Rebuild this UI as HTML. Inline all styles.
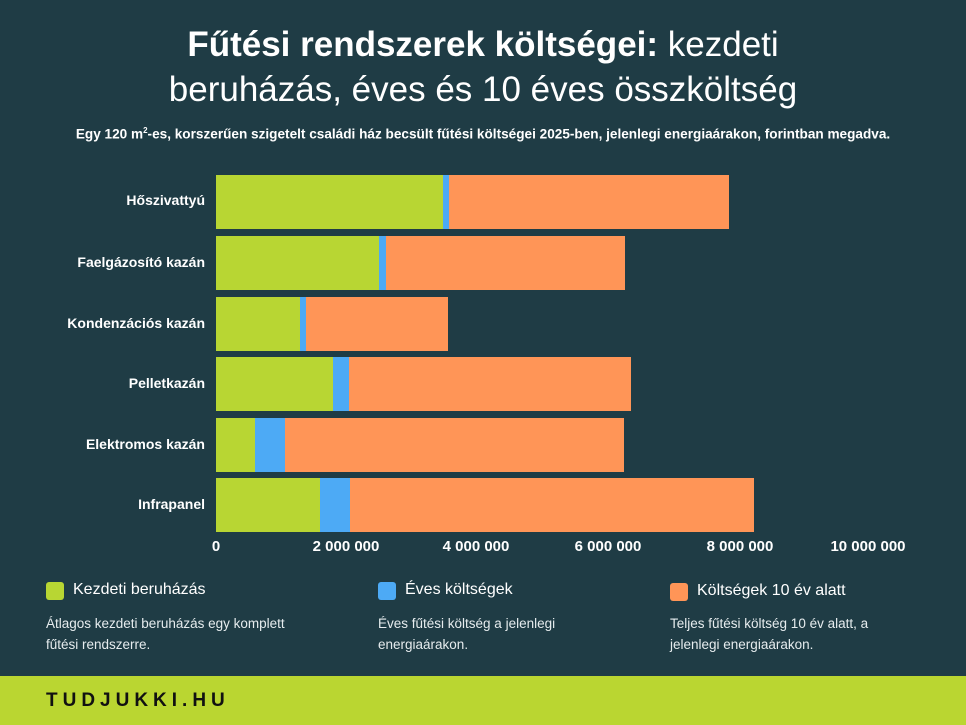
<!DOCTYPE html>
<html><head><meta charset="utf-8"><style>
body{margin:0;width:966px;height:725px;background:#1f3c45;font-family:"Liberation Sans",sans-serif;color:#fff;position:relative;overflow:hidden}
.abs{position:absolute}
.t{left:0;width:966px;text-align:center;font-size:35px;line-height:40px}
.lbl{right:761px;font-weight:bold;font-size:14px;text-align:right;white-space:nowrap}
.bar{position:absolute;height:54px}
.g{background:#b8d633}.b{background:#4daaf5}.o{background:#ff9557}
.tick{font-weight:bold;font-size:15px;width:120px;text-align:center;top:538px}
.sw{width:18px;height:18px;border-radius:3px}
.lt{font-size:16px}
.ld{font-size:13.5px;line-height:21px;color:#e6ecee}
</style></head><body>
<div class="abs t" style="top:25px"><b>Fűtési rendszerek költségei:</b> kezdeti</div>
<div class="abs t" style="top:70px">beruházás, éves és 10 éves összköltség</div>
<div class="abs" style="left:0;width:966px;text-align:center;top:126px;font-size:13.6px;font-weight:bold;white-space:nowrap">Egy 120 m<sup style="font-size:8px">2</sup>-es, korszerűen szigetelt családi ház becsült fűtési költségei 2025-ben, jelenlegi energiaárakon, forintban megadva.</div>

<div class="abs lbl" style="top:192px">Hőszivattyú</div>
<div class="bar g" style="left:216px;width:227px;top:175px"></div><div class="bar b" style="left:443px;width:6px;top:175px"></div><div class="bar o" style="left:449px;width:280px;top:175px"></div>

<div class="abs lbl" style="top:254px">Faelgázosító kazán</div>
<div class="bar g" style="left:216px;width:163px;top:236px"></div><div class="bar b" style="left:379px;width:7px;top:236px"></div><div class="bar o" style="left:386px;width:239px;top:236px"></div>

<div class="abs lbl" style="top:315px">Kondenzációs kazán</div>
<div class="bar g" style="left:216px;width:84px;top:297px"></div><div class="bar b" style="left:300px;width:6px;top:297px"></div><div class="bar o" style="left:306px;width:142px;top:297px"></div>

<div class="abs lbl" style="top:375px">Pelletkazán</div>
<div class="bar g" style="left:216px;width:117px;top:357px"></div><div class="bar b" style="left:333px;width:16px;top:357px"></div><div class="bar o" style="left:349px;width:282px;top:357px"></div>

<div class="abs lbl" style="top:436px">Elektromos kazán</div>
<div class="bar g" style="left:216px;width:39px;top:418px"></div><div class="bar b" style="left:255px;width:30px;top:418px"></div><div class="bar o" style="left:285px;width:339px;top:418px"></div>

<div class="abs lbl" style="top:496px">Infrapanel</div>
<div class="bar g" style="left:216px;width:104px;top:478px"></div><div class="bar b" style="left:320px;width:30px;top:478px"></div><div class="bar o" style="left:350px;width:404px;top:478px"></div>

<div class="abs tick" style="left:156px">0</div>
<div class="abs tick" style="left:286px">2 000 000</div>
<div class="abs tick" style="left:416px">4 000 000</div>
<div class="abs tick" style="left:548px">6 000 000</div>
<div class="abs tick" style="left:680px">8 000 000</div>
<div class="abs tick" style="left:808px">10 000 000</div>

<div class="abs sw" style="left:46px;top:582px;background:#b8d633"></div>
<div class="abs lt" style="left:73px;top:581px">Kezdeti beruházás</div>
<div class="abs ld" style="left:46px;top:613px">Átlagos kezdeti beruházás egy komplett<br>fűtési rendszerre.</div>

<div class="abs sw" style="left:378px;top:582px;background:#4daaf5"></div>
<div class="abs lt" style="left:405px;top:581px">Éves költségek</div>
<div class="abs ld" style="left:378px;top:613px">Éves fűtési költség a jelenlegi<br>energiaárakon.</div>

<div class="abs sw" style="left:670px;top:583px;background:#ff9557"></div>
<div class="abs lt" style="left:697px;top:582px">Költségek 10 év alatt</div>
<div class="abs ld" style="left:670px;top:613px">Teljes fűtési költség 10 év alatt, a<br>jelenlegi energiaárakon.</div>

<div class="abs" style="left:0;top:676px;width:966px;height:49px;background:#bad631"></div>
<div class="abs" style="left:46px;top:690px;font-size:19px;font-weight:900;letter-spacing:5px;color:#111">TUDJUKKI.HU</div>
</body></html>
